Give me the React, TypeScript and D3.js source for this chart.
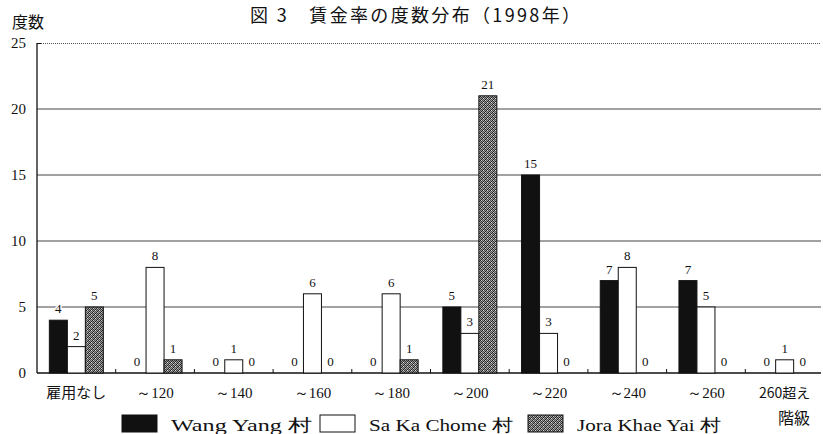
import React from "react";
import * as d3 from "d3";

const categories = ["雇用なし", "～120", "～140", "～160", "～180", "～200", "～220", "～240", "～260", "260超え"];
const wangYang = [4, 0, 0, 0, 0, 5, 15, 7, 7, 0];
const saKaChome = [2, 8, 1, 6, 6, 3, 3, 8, 5, 1];
const joraKhaeYai = [5, 1, 0, 0, 1, 21, 0, 0, 0, 0];
const seriesNames = ["Wang Yang 村", "Sa Ka Chome 村", "Jora Khae Yai 村"];
const yTicks = [0, 5, 10, 15, 20, 25];

const W = 823, H = 434;
const left = 37, right = 824, top = 43, bottom = 373;
const serif = "'Liberation Serif', 'DejaVu Serif', serif";
const jp = "'Noto Sans CJK JP', sans-serif";

const dots: [number, number, string][] = [
  [0, 0, "#222"], [2, 0, "#555"], [1, 1, "#333"], [3, 1, "#222"],
  [0, 2, "#444"], [2, 2, "#222"], [1, 3, "#222"], [3, 3, "#555"],
  [1, 0, "#ccc"], [3, 2, "#ddd"],
];

export default function App() {
  const x = d3.scaleBand<string>().domain(categories).range([left, right]).padding(0);
  const y = d3.scaleLinear().domain([0, 25]).range([bottom, top]);
  const bw = 18;
  const series = [wangYang, saKaChome, joraKhaeYai];
  const fills = ["#111", "#fff", "url(#hatch)"];

  return (
    <svg width={W} height={H} style={{ position: "absolute", left: 0, top: 0, background: "#fff" }}>
      <defs>
        <pattern id="hatch" width="4" height="4" patternUnits="userSpaceOnUse">
          <rect width="4" height="4" fill="#999" />
          {dots.map(([dx, dy, c], i) => (
            <rect key={i} x={dx} y={dy} width="1" height="1" fill={c} />
          ))}
        </pattern>
      </defs>
      <rect width={W} height={H} fill="#fff" />
      <text x={250} y={22} fontFamily={jp} fontSize={18} fill="#111" textLength={330} lengthAdjust="spacing">図 3　賃金率の度数分布（1998年）</text>
      <text x={12} y={28} fontFamily={jp} fontSize={16} fill="#111">度数</text>
      <text x={778} y={424} fontFamily={jp} fontSize={16} fill="#111">階級</text>

      {yTicks.map((t) => (
        <g key={t}>
          {t > 0 && t < 25 && (
            <line x1={left} x2={821} y1={y(t)} y2={y(t)} stroke="#444" strokeWidth={1} />
          )}
          {t === 25 && (
            <line x1={left} x2={821} y1={y(t) + 0.5} y2={y(t) + 0.5} stroke="#555" strokeWidth={1} strokeDasharray="1,1" />
          )}
          <text x={26} y={y(t) + 5} textAnchor="end" fontFamily={serif} fontSize={15} fill="#111">{t}</text>
        </g>
      ))}
      <line x1={left} x2={left} y1={top} y2={bottom} stroke="#111" strokeWidth={1.3} />
      <line x1={left} x2={left + 4} y1={top + 0.5} y2={top + 0.5} stroke="#111" />
      <line x1={left} x2={821} y1={bottom} y2={bottom} stroke="#111" strokeWidth={1.3} />
      {categories.slice(1).map((c) => (
        <line key={c} x1={x(c)!} x2={x(c)!} y1={bottom} y2={bottom - 4} stroke="#111" />
      ))}

      {categories.map((c, i) => {
        const cx = x(c)! + x.bandwidth() / 2;
        return (
          <g key={c}>
            {series.map((s, k) => {
              const bx = cx - 1.5 * bw + k * bw;
              const v = s[i];
              return (
                <g key={k}>
                  {v > 0 && (
                    <rect x={bx} y={y(v)} width={bw} height={bottom - y(v)} fill={fills[k]} stroke="#111" strokeWidth={1} />
                  )}
                  <text x={bx + bw / 2} y={y(v) - 7} textAnchor="middle" fontFamily={serif} fontSize={13} fill="#111"
                    stroke="#fff" strokeWidth={3} paintOrder="stroke">{v}</text>
                </g>
              );
            })}
            <text x={cx} y={398} textAnchor="middle" fontFamily={i === 0 || i === 9 ? jp : serif} fontSize={i === 0 ? 15 : i === 9 ? 14 : 15} fill="#111">{c}</text>
          </g>
        );
      })}

      {seriesNames.map((n, k) => {
        const lx = [122, 320, 528][k];
        const tw = [141, 144, 144][k];
        return (
          <g key={n}>
            <rect x={lx} y={415} width={35} height={17} fill={fills[k]} stroke="#111" strokeWidth={1} />
            <text x={lx + 49} y={431} fontFamily={serif} fontSize={17} fill="#111" textLength={tw} lengthAdjust="spacingAndGlyphs">{n}</text>
          </g>
        );
      })}
    </svg>
  );
}
